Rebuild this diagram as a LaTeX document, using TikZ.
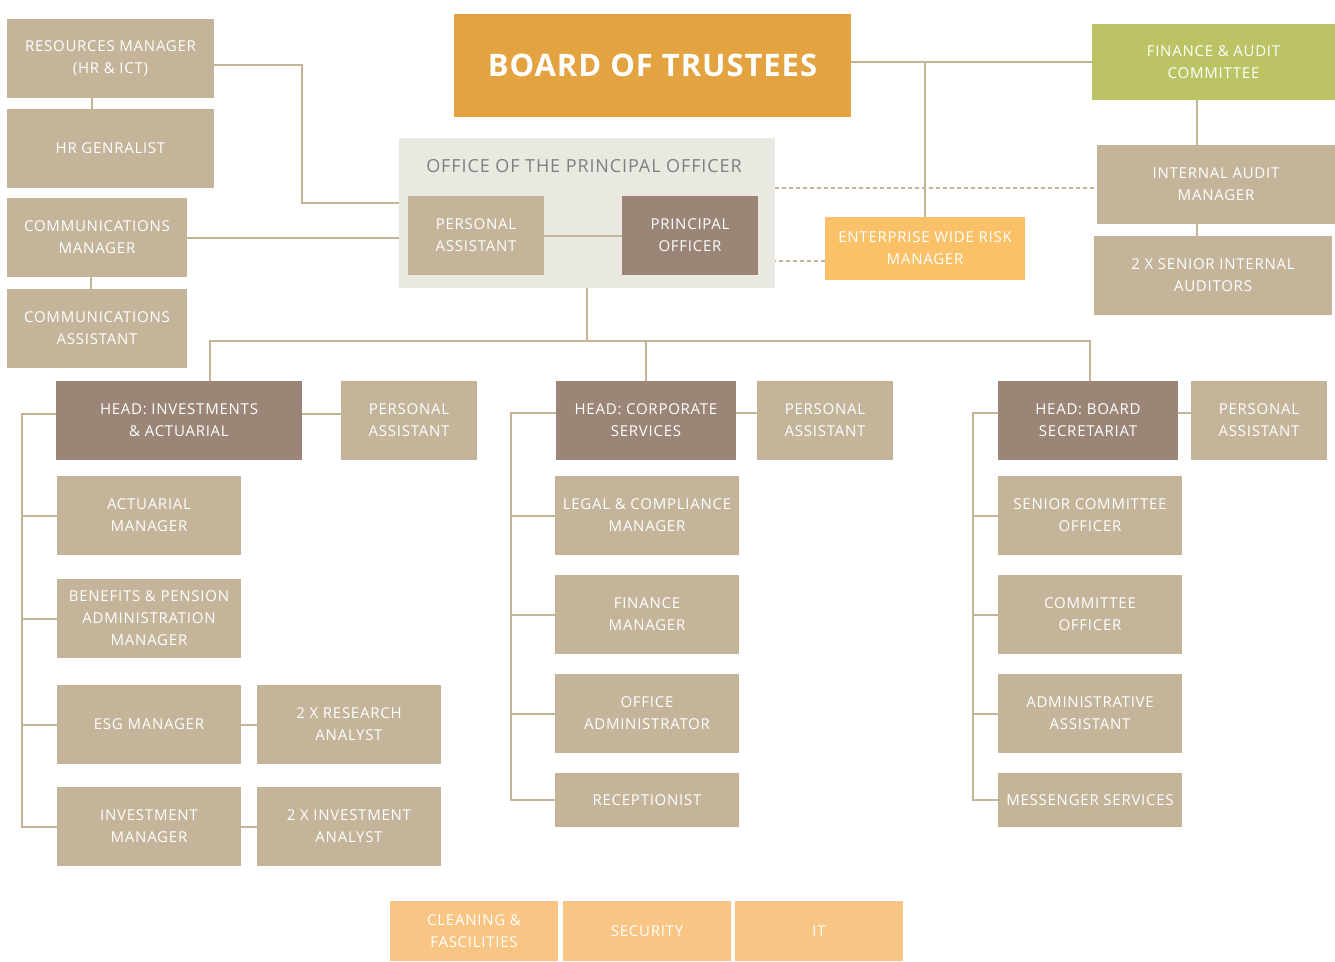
\documentclass[tikz,border=0pt]{standalone}
\usepackage{fontspec}
\newfontfamily\postfont{Open Sans}[LetterSpace=5]
\newfontfamily\boardfont{Open Sans}[LetterSpace=3]

\definecolor{tan}{HTML}{C4B49A}
\definecolor{mocha}{HTML}{9A8576}
\definecolor{mist}{HTML}{E9E9E1}
\definecolor{amber}{HTML}{E2A340}
\definecolor{leaf}{HTML}{BBC364}
\definecolor{apricot}{HTML}{FBC168}
\definecolor{peach}{HTML}{F9C584}
\definecolor{slate}{HTML}{7F7F7F}

\tikzset{
  post/.style={fill=tan, text=white, inner sep=0pt, align=center,
    font=\postfont\fontsize{15}{22}\selectfont},
  head/.style={post, fill=mocha},
  wide/.style={minimum width=184pt, minimum height=79pt},
  slim/.style={minimum width=136pt, minimum height=79pt},
  link/.style={draw=tan, line width=2pt},
  dotlink/.style={draw=tan, line width=2pt, dash pattern=on 4pt off 3pt},
}

\begin{document}
\begin{tikzpicture}[x=1pt, y=-1pt]
      \useasboundingbox (0,0) rectangle (1335,961);

      % board and office of the principal officer
      \node[fill=amber, text=white, minimum width=397pt, minimum height=103pt,
        font=\boardfont\bfseries\fontsize{31}{40}\selectfont] (bot) at (652.5,65.5) {BOARD OF TRUSTEES};
      \node[fill=mist, minimum width=376pt, minimum height=150pt] (office) at (587,213) {};
      \node[text=slate, font=\postfont\fontsize{18}{22}\selectfont] (otitle) at (584,166) {OFFICE OF THE PRINCIPAL OFFICER};
      \node[post, slim] (pa) at (476,235.5) {PERSONAL\\ASSISTANT};
      \node[head, slim] (po) at (690,235.5) {PRINCIPAL\\OFFICER};

      % left column
      \node[post, minimum width=207pt, minimum height=79pt] (rm) at (110.5,58.5) {RESOURCES MANAGER\\(HR \& ICT)};
      \node[post, minimum width=207pt, minimum height=79pt] (hr) at (110.5,148.5) {HR GENRALIST};
      \node[post, minimum width=180pt, minimum height=79pt] (cm) at (97,237.5) {COMMUNICATIONS\\MANAGER};
      \node[post, minimum width=180pt, minimum height=79pt] (ca) at (97,328.5) {COMMUNICATIONS\\ASSISTANT};

      % audit and risk
      \node[post, fill=leaf, minimum width=243pt, minimum height=76pt] (fa) at (1213.5,62) {FINANCE \& AUDIT\\COMMITTEE};
      \node[post, minimum width=238pt, minimum height=79pt] (iam) at (1216,184.5) {INTERNAL AUDIT\\MANAGER};
      \node[post, minimum width=238pt, minimum height=79pt] (sia) at (1213,275.5) {2 X SENIOR INTERNAL\\AUDITORS};
      \node[post, fill=apricot, minimum width=200pt, minimum height=63pt] (erm) at (925,248.5) {ENTERPRISE WIDE RISK\\MANAGER};

      % investments & actuarial
      \node[head, minimum width=246pt, minimum height=79pt] (hi) at (179,420.5) {HEAD: INVESTMENTS\\\& ACTUARIAL};
      \node[post, slim] (pai) at (409,420.5) {PERSONAL\\ASSISTANT};
      \node[post, wide] (act) at (149,515.5) {ACTUARIAL\\MANAGER};
      \node[post, wide] (ben) at (149,618.5) {BENEFITS \& PENSION\\ADMINISTRATION\\MANAGER};
      \node[post, wide] (esg) at (149,724.5) {ESG MANAGER};
      \node[post, wide] (ra) at (349,724.5) {2 X RESEARCH\\ANALYST};
      \node[post, wide] (im) at (149,826.5) {INVESTMENT\\MANAGER};
      \node[post, wide] (ia) at (349,826.5) {2 X INVESTMENT\\ANALYST};

      % corporate services
      \node[head, minimum width=180pt, minimum height=79pt] (hc) at (646,420.5) {HEAD: CORPORATE\\SERVICES};
      \node[post, slim] (pac) at (825,420.5) {PERSONAL\\ASSISTANT};
      \node[post, wide] (leg) at (647,515.5) {LEGAL \& COMPLIANCE\\MANAGER};
      \node[post, wide] (fin) at (647,614.5) {FINANCE\\MANAGER};
      \node[post, wide] (oa) at (647,713.5) {OFFICE\\ADMINISTRATOR};
      \node[post, wide, minimum height=54pt] (rec) at (647,800) {RECEPTIONIST};

      % board secretariat
      \node[head, minimum width=180pt, minimum height=79pt] (hb) at (1088,420.5) {HEAD: BOARD\\SECRETARIAT};
      \node[post, slim] (pab) at (1259,420.5) {PERSONAL\\ASSISTANT};
      \node[post, wide] (sco) at (1090,515.5) {SENIOR COMMITTEE\\OFFICER};
      \node[post, wide] (co) at (1090,614.5) {COMMITTEE\\OFFICER};
      \node[post, wide] (aa) at (1090,713.5) {ADMINISTRATIVE\\ASSISTANT};
      \node[post, wide, minimum height=54pt] (ms) at (1090,800) {MESSENGER SERVICES};

      % outsourced services
      \node[post, fill=peach, minimum width=168pt, minimum height=60pt] (clean) at (474,931) {CLEANING \&\\FASCILITIES};
      \node[post, fill=peach, minimum width=168pt, minimum height=60pt] (sec) at (647,931) {SECURITY};
      \node[post, fill=peach, minimum width=168pt, minimum height=60pt] (it) at (819,931) {IT};

      % reporting lines at the top
      \coordinate (auditx) at (1197,0);
      \coordinate (bus) at (0,341);
      \draw[link] ([xshift=-19pt]rm.south) -- ([xshift=-19pt]hr.north);
      \draw[link] ([xshift=-6pt]cm.south) -- ([xshift=-6pt]ca.north);
      \draw[link] ([yshift=-6pt]rm.east) -- ++(88,0) |- ([yshift=10pt]office.west);
      \draw[link] (cm.east) -- (cm.east -| office.west);
      \draw[link] (pa) -- (po);
      \draw[link] (fa.west) -- (fa.west -| bot.east);
      \draw[link] (erm.north) -- (erm.north |- fa.west);
      \draw[link] (fa.south -| auditx) -- (iam.north -| auditx);
      \draw[link] (iam.south -| auditx) -- (sia.north -| auditx);
      \draw[dotlink] ([yshift=25pt]office.east) -- ([yshift=25pt]office.east -| iam.west);
      \draw[dotlink] ([yshift=-12.5pt]erm.west) -- ([yshift=-12.5pt]erm.west -| office.east);

      % bus to the three heads
      \draw[link] (office.south) -- (office.south |- bus);
      \draw[link] ([xshift=31pt]hi.north) |- ([xshift=2pt]hb.north |- bus) -- ([xshift=2pt]hb.north);
      \draw[link] (hc.north) -- (hc.north |- bus);

      % investments & actuarial lines
      \draw[link] ([yshift=6.5pt]hi.east) -- ([yshift=6.5pt]hi.east -| pai.west);
      \draw[link] ([yshift=6.5pt]hi.west) -- ++(-34,0) |- (im.west);
      \foreach \n in {act,ben,esg}
        \draw[link] (\n.west) -- ++(-35,0);
      \draw[link] (esg) -- (ra);
      \draw[link] (im) -- (ia);

      % corporate services lines
      \draw[link] ([yshift=7.5pt]hc.east) -- ([yshift=7.5pt]hc.east -| pac.west);
      \draw[link] ([yshift=7.5pt]hc.west) -- ++(-45,0) |- (rec.west);
      \foreach \n in {leg,fin,oa}
        \draw[link] (\n.west) -- ++(-44,0);

      % board secretariat lines
      \draw[link] ([yshift=7.5pt]hb.east) -- ([yshift=7.5pt]hb.east -| pab.west);
      \draw[link] ([yshift=7.5pt]hb.west) -- ++(-25,0) |- (ms.west);
      \foreach \n in {sco,co,aa}
        \draw[link] (\n.west) -- ++(-25,0);
\end{tikzpicture}
\end{document}
